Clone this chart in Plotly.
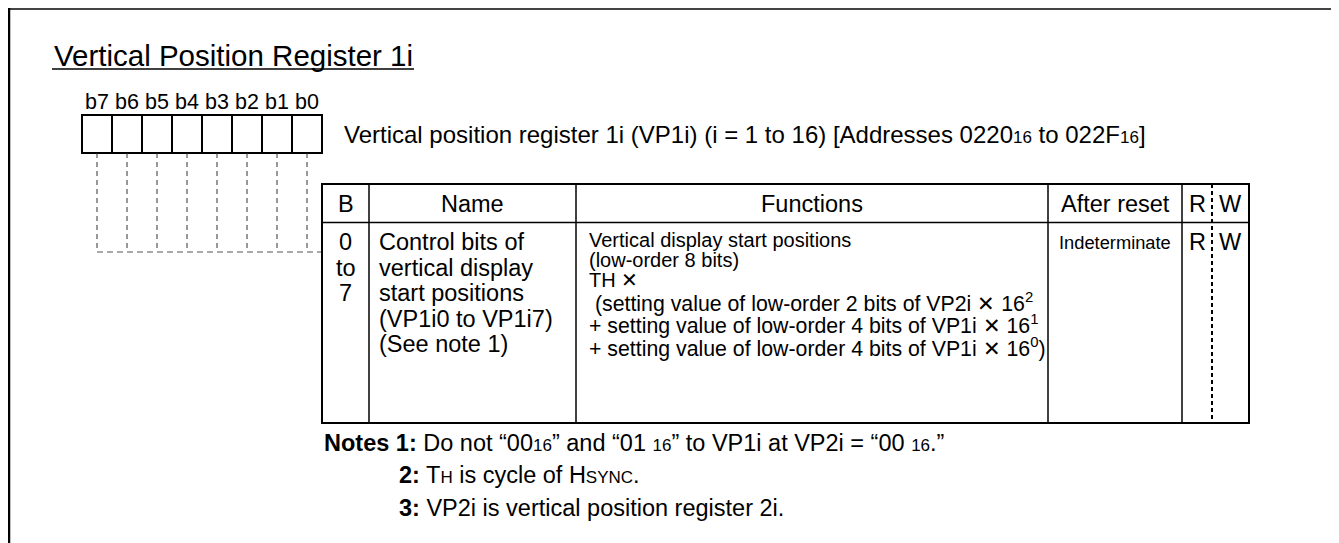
import plotly.graph_objects as go

# page offset: the html body has an 8px margin, so the figure is placed at (8, 8)
OFF = 8
W, H = 1339 - OFF, 543 - OFF
FONT = "Liberation Sans, Arial, Helvetica, sans-serif"

# ---- content ----
title = "Vertical Position Register 1i"
bit_labels = ["b7", "b6", "b5", "b4", "b3", "b2", "b1", "b0"]
SM = "<span style='font-size:17px'>{}</span>"
register_desc = ("Vertical position register 1i (VP1i) (i = 1 to 16) [Addresses 0220"
                 + SM.format("16") + " to 022F" + SM.format("16") + "]")
headers = ["B", "Name", "Functions", "After reset", "R", "W"]
bit_range = ["0", "to", "7"]
name_lines = ["Control bits of", "vertical display", "start positions",
              "(VP1i0 to VP1i7)", "(See note 1)"]
function_lines_a = ["Vertical display start positions", "(low-order 8 bits)", "TH ✕"]
function_lines_b = [" (setting value of low-order 2 bits of VP2i ✕ 16<sup>2</sup>",
                    "+ setting value of low-order 4 bits of VP1i ✕ 16<sup>1</sup>",
                    "+ setting value of low-order 4 bits of VP1i ✕ 16<sup>0</sup>)"]
after_reset = "Indeterminate"
rw_values = ["R", "W"]
SN = "<span style='font-size:17px'>{}</span>"
notes = [("Notes 1:", " Do not “00" + SN.format("16") + "” and “01 " + SN.format("16")
          + "” to VP1i at VP2i = “00 " + SN.format("16") + ".”"),
         ("2:", " T" + SN.format("H") + " is cycle of H" + SN.format("SYNC") + "."),
         ("3:", " VP2i is vertical position register 2i.")]

fig = go.Figure()
shapes = []
ann = []


def line(x0, y0, x1, y1, w=2, dash="solid", color="black"):
    shapes.append(dict(type="line", x0=x0, y0=y0, x1=x1, y1=y1,
                       line=dict(color=color, width=w, dash=dash)))


def text(x, y, s, size, anchor="left"):
    ann.append(dict(x=x, y=y, text=s, showarrow=False, xanchor=anchor, yanchor="middle",
                    font=dict(family=FONT, size=size, color="black"), xref="x", yref="y"))


# outer frame (bottom runs off the page)
line(8, 9, 1336, 9, 2, color="#444")
line(9, 8, 9, 560, 2.5)
line(1335, 8, 1335, 560, 3)

# title
text(52, 55, title, 29.5)
line(52, 69, 414, 69, 1.5)

# register boxes
bx0, bw, by0, by1 = 82, 30, 115, 153
for k, lab in enumerate(bit_labels):
    shapes.append(dict(type="rect", x0=bx0 + k * bw, x1=bx0 + (k + 1) * bw, y0=by0, y1=by1,
                       line=dict(color="black", width=2)))
    cx = bx0 + k * bw + bw / 2
    text(cx, 102, lab, 21.5, "center")
    line(cx, by1, cx, 252, 1, dash="5px,4px", color="#333")
line(bx0 + bw / 2, 252, 322, 252, 1, dash="6px,4px", color="#555")

text(342, 134, register_desc, 24)

# table
tx0, tx1, ty0, ty1, hy = 322, 1249, 184, 423, 222.5
cols = [322, 369, 576, 1048, 1182, 1212, 1249]
shapes.append(dict(type="rect", x0=tx0, x1=tx1, y0=ty0, y1=ty1, line=dict(color="black", width=2)))
line(tx0, hy, tx1, hy, 1.5)
for cxv in cols[1:5]:
    line(cxv, ty0, cxv, ty1, 1.5)
line(cols[5], ty0, cols[5], ty1, 2, dash="4px,3px")

hc = [(cols[i] + cols[i + 1]) / 2 for i in range(6)]
for i, h in enumerate(headers):
    text(hc[i], 204, h, 23.5, "center")

for j, s in enumerate(bit_range):
    text(hc[0], 242 + j * 25.5, s, 23.5, "center")
for j, s in enumerate(name_lines):
    text(377, 242 + j * 25.5, s, 23.5)
for j, s in enumerate(function_lines_a):
    text(587, 240 + j * 20, s, 20)
for j, s in enumerate(function_lines_b):
    text(587, 302 + j * 22.5, s, 21.3)
text(hc[3], 242, after_reset, 18.3, "center")
text(hc[4], 242, rw_values[0], 23.5, "center")
text(hc[5], 242, rw_values[1], 23.5, "center")

# notes
text(322, 443, "<b>" + notes[0][0] + "</b>" + notes[0][1], 23.5)
for j, (a, b) in enumerate(notes[1:]):
    text(397, 475 + j * 32.5, "<b>" + a + "</b>" + b, 23.5)

fig.update_layout(
    width=W, height=H, margin=dict(l=0, r=0, t=0, b=0),
    paper_bgcolor="white", plot_bgcolor="white",
    xaxis=dict(range=[OFF, OFF + W], visible=False, fixedrange=True),
    yaxis=dict(range=[OFF + H, OFF], visible=False, fixedrange=True),
    shapes=shapes, annotations=ann, showlegend=False,
)
fig.write_html("out.html", config={"displayModeBar": False})
